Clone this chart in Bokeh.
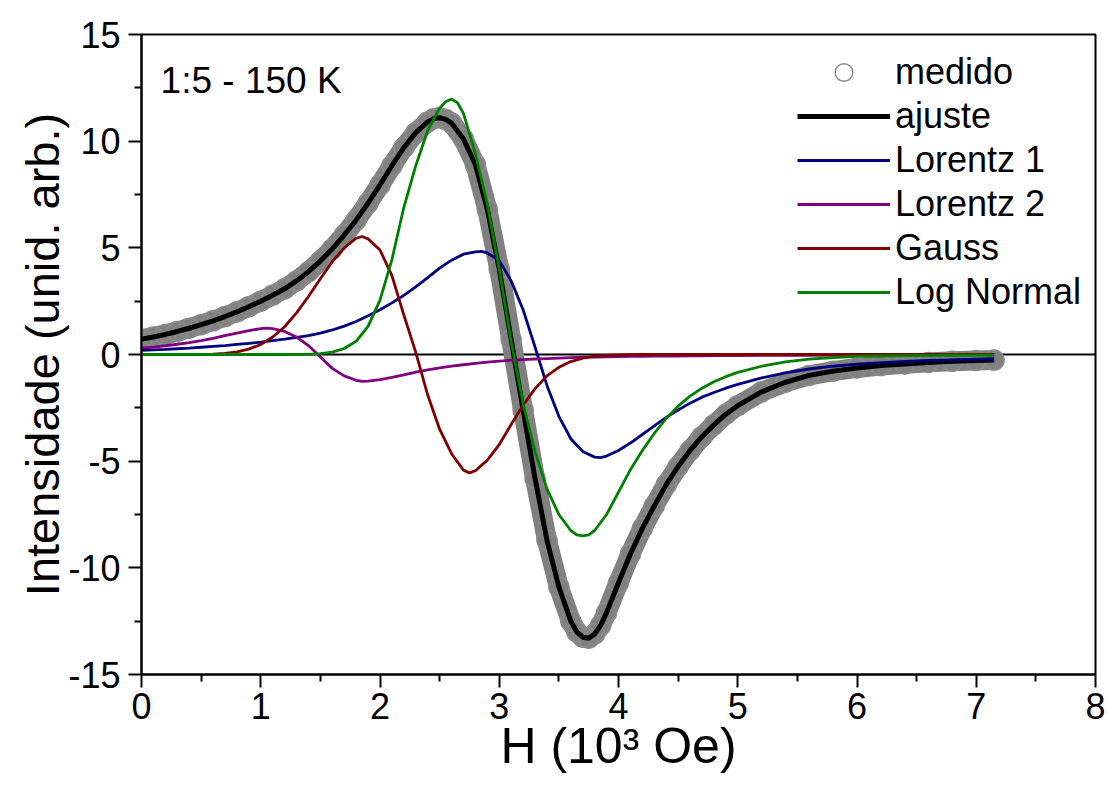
from bokeh.plotting import figure
from bokeh.models import (Range1d, FixedTicker, Span, Label, Legend, LegendItem,
                          CustomJSTickFormatter)
from bokeh.embed import file_html
from bokeh.resources import INLINE

# ---------------- data ----------------
# common field grid pieces (10^3 Oe)
h_low = [0.0, 0.1, 0.2, 0.3, 0.4, 0.5, 0.6, 0.7, 0.8, 0.9]
h_4 = [4.0, 4.1, 4.2, 4.3, 4.4, 4.5, 4.6, 4.7, 4.8, 4.9]
h_tail = [5.0, 5.2, 5.4, 5.6, 5.8, 6.0, 6.2, 6.4, 6.6, 6.8, 7.0, 7.15]

# measured data and total fit
h_fit = (h_low
         + [1.0, 1.1, 1.2, 1.3, 1.4, 1.5, 1.6, 1.7, 1.8, 1.9]
         + [2.0, 2.1, 2.2, 2.3, 2.4, 2.45, 2.5, 2.55, 2.6, 2.7, 2.8, 2.9]
         + [3.0, 3.1, 3.2, 3.3, 3.4, 3.5, 3.6, 3.65, 3.7, 3.75, 3.8, 3.85, 3.9]
         + h_4 + h_tail)

medido = [0.72, 0.82, 0.94, 1.08, 1.23, 1.40, 1.58, 1.78, 2.00, 2.24,
          2.50, 2.78, 3.08, 3.45, 3.88, 4.38, 4.95, 5.60, 6.30, 7.10,
          7.95, 8.85, 9.70, 10.40, 10.90, 11.05, 11.10, 11.02, 10.85, 10.10, 8.90, 6.80,
          4.00, 0.70, -2.60, -5.80, -8.70, -10.90, -12.50, -13.00, -13.25, -13.30, -13.10, -12.70, -12.10,
          -10.70, -9.35, -8.15, -7.10, -6.10, -5.25, -4.50, -3.85, -3.30, -2.80,
          -2.40, -1.75, -1.30, -0.98, -0.78, -0.63, -0.52, -0.44, -0.37, -0.32, -0.28, -0.26]

ajuste = [0.72, 0.82, 0.94, 1.08, 1.23, 1.40, 1.58, 1.78, 2.00, 2.24,
          2.50, 2.78, 3.08, 3.45, 3.88, 4.38, 4.95, 5.60, 6.30, 7.10,
          7.95, 8.85, 9.70, 10.40, 10.90, 11.05, 11.10, 11.02, 10.85, 10.10, 8.90, 6.80,
          4.00, 0.70, -2.60, -5.80, -8.70, -10.90, -12.50, -13.00, -13.25, -13.30, -13.10, -12.70, -12.10,
          -10.70, -9.35, -8.15, -7.10, -6.10, -5.25, -4.50, -3.85, -3.30, -2.80,
          -2.40, -1.75, -1.30, -0.98, -0.78, -0.63, -0.52, -0.44, -0.37, -0.32, -0.28, -0.26]

# Lorentz 1
h_l1 = (h_low
        + [1.0, 1.1, 1.2, 1.3, 1.4, 1.5, 1.6, 1.7, 1.8, 1.9]
        + [2.0, 2.1, 2.2, 2.3, 2.4, 2.5, 2.6, 2.7, 2.8, 2.85, 2.9]
        + [3.0, 3.1, 3.2, 3.3, 3.4, 3.5, 3.6, 3.7, 3.8, 3.85, 3.9]
        + h_4 + h_tail)
lorentz1 = [0.20, 0.22, 0.24, 0.27, 0.30, 0.34, 0.38, 0.42, 0.47, 0.52,
            0.58, 0.65, 0.72, 0.80, 0.88, 1.00, 1.15, 1.33, 1.55, 1.82,
            2.10, 2.42, 2.77, 3.17, 3.60, 4.05, 4.42, 4.70, 4.81, 4.83, 4.76,
            4.40, 3.45, 2.10, 0.35, -1.45, -2.90, -3.95, -4.55, -4.81, -4.83, -4.76,
            -4.50, -4.15, -3.75, -3.35, -2.95, -2.60, -2.28, -2.00, -1.78, -1.58,
            -1.40, -1.10, -0.86, -0.68, -0.55, -0.45, -0.38, -0.32, -0.28, -0.25, -0.22, -0.21]

# Lorentz 2
h_l2 = (h_low
        + [1.0, 1.05, 1.1, 1.2, 1.3, 1.4, 1.5, 1.6, 1.7, 1.8, 1.85, 1.9]
        + [2.0, 2.1, 2.2, 2.3, 2.4, 2.5, 2.6, 2.7, 2.8, 2.9]
        + [3.0, 3.1, 3.2, 3.3, 3.4, 3.5, 3.6, 3.7, 3.8, 3.9]
        + h_4 + h_tail)
lorentz2 = [0.30, 0.35, 0.41, 0.48, 0.56, 0.65, 0.76, 0.88, 1.00, 1.12,
            1.21, 1.24, 1.21, 1.08, 0.82, 0.42, -0.12, -0.65, -1.00, -1.21, -1.26, -1.25,
            -1.18, -1.07, -0.95, -0.83, -0.72, -0.63, -0.55, -0.48, -0.42, -0.36,
            -0.31, -0.27, -0.24, -0.21, -0.19, -0.17, -0.15, -0.13, -0.12, -0.11,
            -0.10, -0.09, -0.085, -0.08, -0.075, -0.07, -0.065, -0.06, -0.056, -0.053,
            -0.05, -0.045, -0.04, -0.036, -0.033, -0.03, -0.028, -0.026, -0.024, -0.022, -0.02, -0.02]

# Gauss
h_g = (h_low
       + [1.0, 1.1, 1.2, 1.3, 1.4, 1.5, 1.6, 1.7, 1.8, 1.85, 1.9]
       + [2.0, 2.1, 2.2, 2.3, 2.4, 2.5, 2.6, 2.7, 2.75, 2.8, 2.9]
       + [3.0, 3.1, 3.2, 3.3, 3.4, 3.5, 3.6, 3.7, 3.8, 3.9]
       + h_4 + h_tail)
gauss = [0.0, 0.0, 0.0, 0.0, 0.0, 0.01, 0.02, 0.05, 0.12, 0.25,
         0.47, 0.82, 1.30, 1.95, 2.72, 3.55, 4.35, 5.00, 5.45, 5.53, 5.42,
         4.90, 3.70, 1.85, 0.10, -1.90, -3.50, -4.65, -5.42, -5.55, -5.45, -4.95,
         -4.22, -3.28, -2.38, -1.60, -1.00, -0.60, -0.33, -0.17, -0.08, -0.04,
         -0.02, -0.01, 0.0, 0.0, 0.0, 0.0, 0.0, 0.0, 0.0, 0.0,
         0.0, 0.0, 0.0, 0.0, 0.0, 0.0, 0.0, 0.0, 0.0, 0.0, 0.0, 0.0]

# Log Normal
h_ln = (h_low
        + [1.0, 1.1, 1.2, 1.3, 1.4, 1.5, 1.6, 1.7, 1.8, 1.9]
        + [2.0, 2.1, 2.2, 2.3, 2.4, 2.5, 2.55, 2.6, 2.65, 2.7, 2.8, 2.9]
        + [3.0, 3.1, 3.2, 3.3, 3.4, 3.5, 3.6, 3.65, 3.7, 3.75, 3.8, 3.9]
        + h_4 + h_tail)
lognormal = [0.0, 0.0, 0.0, 0.0, 0.0, 0.0, 0.0, 0.0, 0.0, 0.0,
             0.0, 0.0, 0.0, 0.005, 0.01, 0.04, 0.11, 0.28, 0.62, 1.32,
             2.55, 4.45, 6.90, 8.85, 10.50, 11.55, 11.85, 11.97, 11.80, 11.30, 9.40, 7.05,
             4.00, 0.60, -2.30, -4.55, -6.30, -7.50, -8.25, -8.45, -8.50, -8.45, -8.25, -7.50,
             -6.45, -5.40, -4.50, -3.70, -3.00, -2.42, -1.95, -1.58, -1.28, -1.04,
             -0.84, -0.55, -0.35, -0.22, -0.14, -0.09, -0.07, -0.05, -0.04, -0.035, -0.03, -0.03]

x_ticks = [0, 1, 2, 3, 4, 5, 6, 7, 8]
x_minor = [0.5, 1.5, 2.5, 3.5, 4.5, 5.5, 6.5, 7.5]
y_ticks = [-15, -10, -5, 0, 5, 10, 15]
y_minor = [-12.5, -7.5, -2.5, 2.5, 7.5, 12.5]

FONT = "Liberation Sans"

p = figure(width=1108, height=788, output_backend="svg", toolbar_location=None,
           x_range=Range1d(0, 8), y_range=Range1d(-15, 15),
           min_border_left=141, min_border_right=13, min_border_top=34,
           min_border_bottom=114,
           x_axis_label="H (10\u00b3 Oe)", y_axis_label="Intensidade (unid. arb.)")

p.xgrid.visible = False
p.ygrid.visible = False
p.outline_line_color = "black"
p.outline_line_width = 2
p.background_fill_color = "white"
p.border_fill_color = "white"

p.xaxis.ticker = FixedTicker(ticks=x_ticks, minor_ticks=x_minor)
p.yaxis.ticker = FixedTicker(ticks=y_ticks, minor_ticks=y_minor)
p.xaxis.formatter = CustomJSTickFormatter(code="return String(tick);")
p.yaxis.formatter = CustomJSTickFormatter(code="return String(tick);")

for ax in (p.xaxis[0], p.yaxis[0]):
    ax.axis_line_width = 2
    ax.axis_line_color = "black"
    ax.major_tick_line_width = 2
    ax.minor_tick_line_width = 2
    ax.major_tick_line_color = "black"
    ax.minor_tick_line_color = "black"
    ax.major_tick_in = 0
    ax.major_tick_out = 13
    ax.minor_tick_in = 0
    ax.minor_tick_out = 7
    ax.major_label_text_font = FONT
    ax.major_label_text_font_size = "36px"
    ax.major_label_text_color = "black"
    ax.axis_label_text_font = FONT
    ax.axis_label_text_font_style = "normal"
    ax.axis_label_text_color = "black"

p.xaxis.axis_label_text_font_size = "50px"
p.yaxis.axis_label_text_font_size = "47px"
p.xaxis.major_label_standoff = 5
p.xaxis.axis_label_standoff = -4
p.yaxis.major_label_standoff = 8
p.yaxis.axis_label_standoff = -4

zero = Span(location=0, dimension="width", line_color="black", line_width=2,
            level="underlay")
p.add_layout(zero)

band = p.line(h_fit, medido, line_width=20, line_color="#808080",
              line_cap="round", line_join="round")
pts = p.scatter(h_fit, medido, marker="circle", size=20,
                fill_color=None, line_color="#8a8a8a", line_width=1.5)
r_fit = p.line(h_fit, ajuste, line_width=5, line_color="black")
r_l1 = p.line(h_l1, lorentz1, line_width=2.8, line_color="#000080")
r_l2 = p.line(h_l2, lorentz2, line_width=2.8, line_color="#800080")
r_g = p.line(h_g, gauss, line_width=2.8, line_color="#800000")
r_ln = p.line(h_ln, lognormal, line_width=2.8, line_color="#008000")

legend = Legend(items=[
    LegendItem(label="medido", renderers=[pts]),
    LegendItem(label="ajuste", renderers=[r_fit]),
    LegendItem(label="Lorentz 1", renderers=[r_l1]),
    LegendItem(label="Lorentz 2", renderers=[r_l2]),
    LegendItem(label="Gauss", renderers=[r_g]),
    LegendItem(label="Log Normal", renderers=[r_ln]),
], location=(656, 360))
legend.border_line_color = None
legend.background_fill_alpha = 0
legend.label_text_font = FONT
legend.label_text_font_size = "36px"
legend.label_text_color = "black"
legend.glyph_width = 93
legend.glyph_height = 44
legend.label_height = 44
legend.spacing = 0
legend.padding = 10
legend.margin = 0
legend.label_standoff = 5
p.add_layout(legend)

p.add_layout(Label(x=0.16, y=12.83, text="1:5 - 150 K", text_font=FONT,
                   text_font_size="37px", text_baseline="alphabetic",
                   text_color="black"))

open("out.html", "w").write(file_html(p, INLINE))
